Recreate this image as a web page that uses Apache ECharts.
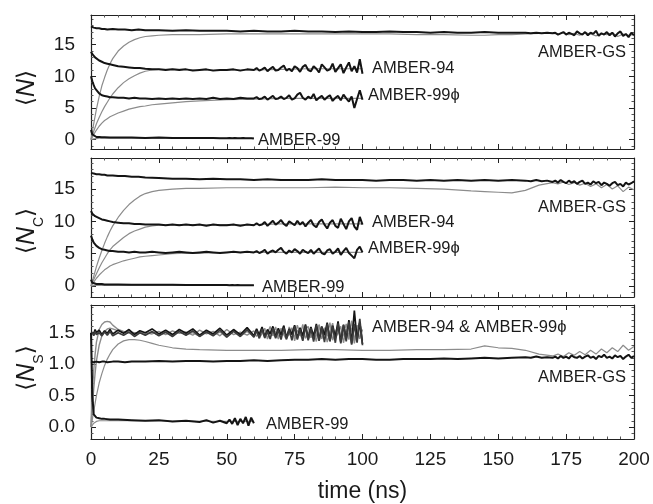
<!DOCTYPE html>
<html>
<head>
<meta charset="utf-8">
<script src="https://cdn.jsdelivr.net/npm/echarts@6/dist/echarts.min.js"></script>
<style>
  html, body { margin: 0; padding: 0; background: #fff; }
  #chart { width: 653px; height: 504px; }
</style>
</head>
<body>
<div id="chart"></div>
<script>
// time grids (ns)
const tGS = [0, 1, 2, 3, 4, 5, 6, 8, 10, 12.5, 15, 17.5, 20,
    25, 30, 35, 40, 45, 50, 55, 60, 65, 70, 75, 80, 85, 90, 95, 100, 105, 110, 115, 120, 125, 130, 135, 140, 145, 150, 155, 160,
    162, 164, 166, 168, 170,
    171, 172, 173, 174, 175, 176, 177, 178, 179, 180, 181, 182, 183, 184, 185, 186, 187, 188, 189, 190,
    191, 192, 193, 194, 195, 196, 197, 198, 199, 200];
const t100 = [0, 0.5, 1, 1.5, 2, 3, 4, 5, 6, 7, 8, 10, 12, 14, 16, 18, 20,
    22.5, 25, 27.5, 30, 32.5, 35, 37.5, 40, 42.5, 45, 47.5, 50, 52.5, 55, 57.5, 60,
    61, 62, 63, 64, 65, 66, 67, 68, 69, 70, 71, 72, 73, 74, 75, 76, 77, 78, 79, 80,
    81, 82, 83, 84, 85, 86, 87, 88, 89, 90, 91, 92, 93, 94, 95, 96, 97, 98, 99, 100];
const t60 = [0, 0.5, 1, 2, 3, 4, 5, 7, 10, 15, 20, 25, 30, 35, 40, 42.5, 45, 47.5, 50,
    51, 52, 53, 54, 55, 56, 57, 58, 59, 60];
const tGray = [0, 1, 2, 3, 4, 5, 6, 7, 8, 10, 12, 14, 16, 18, 20, 22.5, 25, 30, 35, 40, 50, 60, 70, 80, 90, 100];
const tGrayGS = [0, 1, 2, 3, 4, 5, 6, 7, 8, 10, 12, 14, 16, 18, 20, 22.5, 25, 30, 35, 40, 50, 60, 70, 80, 90, 100,
    110, 120, 130, 140, 145, 150, 155, 160, 165, 170,
    172, 174, 176, 178, 180, 182, 184, 186, 188, 190, 192, 194, 196, 198, 200];
const tGray99 = [0, 1, 2, 3, 5, 10, 20, 30, 40, 50, 60];

// <N>
const nGSFold = [17.9, 17.7, 17.6, 17.6, 17.5, 17.5, 17.4, 17.5, 17.4, 17.4, 17.3, 17.4, 17.3,
    17.3, 17.2, 17.3, 17.2, 17.2, 17.2, 17.1, 17.2, 17.1, 17.1, 17.2, 17.1, 17.1, 17.0, 17.1, 17.0,
    17.0, 17.1, 17.0, 17.0, 16.9, 17.0, 16.9, 16.9, 17.0, 16.9, 16.9, 16.9,
    16.8, 16.9, 16.8, 16.9, 16.8,
    16.9, 16.6, 16.8, 17.0, 16.6, 16.9, 16.7, 16.5, 17.1, 16.8, 16.6, 17.0, 16.5, 16.9, 16.7,
    17.2, 16.4, 16.8, 16.6, 17.0, 16.5, 16.9, 16.3, 16.8, 17.1, 16.4, 16.7, 16.2, 16.9, 16.5];
const nGSUnf = [0, 2.5, 4.8, 6.8, 8.5, 9.8, 11.0, 12.0, 12.8, 14.0, 14.8, 15.4, 15.8, 16.1, 16.3, 16.4,
    16.5, 16.6, 16.6, 16.6, 16.7, 16.7, 16.7, 16.7, 16.7, 16.7,
    16.7, 16.6, 16.6, 16.5, 16.5, 16.6, 16.6, 16.7, 16.8, 16.8,
    16.7, 16.9, 16.6, 16.8, 16.5, 16.9, 16.7, 16.4, 16.8, 16.6, 16.9, 16.3, 16.7, 16.5, 16.6];
const n94Fold = [13.9, 13.5, 13.2, 13.0, 12.8, 12.5, 12.3, 12.1, 12.0, 11.9, 11.8,
    11.6, 11.5, 11.4, 11.3, 11.3, 11.2,
    11.1, 11.1, 11.0, 11.1, 11.0, 11.1, 10.9, 11.0, 11.1, 10.9, 11.0, 11.0, 11.1, 10.9, 11.1, 11.0,
    11.3, 10.9, 11.1, 11.4, 10.8, 11.2, 11.5, 10.9, 11.0, 11.4,
    11.7, 10.9, 11.2, 10.8, 11.6, 11.3, 10.7, 11.5, 11.8, 11.0,
    10.8, 11.6, 11.2, 10.6, 11.9, 11.4, 10.9, 11.1, 12.0, 10.7,
    11.3, 11.9, 10.5, 11.4, 12.2, 10.8, 11.6, 10.6, 12.7, 10.4];
const n94Unf = [0, 1.3, 2.5, 3.5, 4.4, 5.2, 5.9, 6.6, 7.2, 8.2, 9.0, 9.6, 10.1, 10.5, 10.8, 11.0,
    11.1, 11.1, 11.1, 11.0, 11.0, 11.0, 11.1, 11.2, 11.2, 11.2];
const n99pFold = [10.0, 9.2, 8.6, 8.1, 7.8, 7.3, 7.0, 6.9, 6.8, 6.7, 6.7,
    6.6, 6.6, 6.5, 6.6, 6.5, 6.5,
    6.4, 6.5, 6.4, 6.5, 6.4, 6.5, 6.4, 6.5, 6.4, 6.6, 6.4, 6.5, 6.4, 6.6, 6.5, 6.5,
    6.7, 6.4, 6.5, 6.8, 6.3, 6.6, 6.9, 6.4, 6.5, 6.8,
    6.4, 6.6, 7.0, 6.3, 6.5, 7.1, 7.4, 6.6, 6.3, 6.8,
    6.5, 7.2, 6.2, 6.6, 6.9, 6.3, 6.7, 7.0, 6.1, 6.6,
    6.9, 6.2, 7.1, 6.5, 6.0, 6.8, 5.0, 6.4, 7.8, 6.3];
const n99pUnf = [0, 0.8, 1.5, 2.1, 2.6, 3.0, 3.3, 3.6, 3.8, 4.2, 4.5, 4.8, 5.0, 5.2, 5.3, 5.5,
    5.6, 5.8, 6.0, 6.1, 6.3, 6.4, 6.5, 6.5, 6.5, 6.5];
const n99Fold = [1.5, 0.8, 0.5, 0.4, 0.4, 0.35, 0.35, 0.3, 0.3, 0.3, 0.25, 0.3, 0.25, 0.25, 0.25, 0.25, 0.25, 0.2, 0.2,
    0.25, 0.2, 0.25, 0.2, 0.2, 0.25, 0.2, 0.2, 0.2, 0.15];
const n99Unf = [0, 0.1, 0.15, 0.2, 0.2, 0.2, 0.2, 0.2, 0.2, 0.2, 0.2];

// <N_C>
const cGSFold = [17.5, 17.4, 17.3, 17.3, 17.2, 17.2, 17.1, 17.1, 17.0, 17.0, 16.9, 16.9, 16.8,
    16.7, 16.6, 16.6, 16.5, 16.6, 16.5, 16.5, 16.4, 16.5, 16.4, 16.4, 16.4, 16.5, 16.4, 16.4, 16.4,
    16.3, 16.4, 16.4, 16.3, 16.4, 16.3, 16.4, 16.3, 16.4, 16.3, 16.4, 16.3,
    16.2, 16.4, 16.2, 16.3, 16.1,
    16.3, 16.0, 16.4, 16.1, 15.9, 16.3, 16.0, 16.2, 15.8, 16.1, 16.3, 15.8, 16.0, 15.7, 16.2,
    15.9, 16.1, 15.6, 16.0, 15.8, 15.5, 15.9, 16.1, 15.6, 15.8, 15.4, 16.0, 15.7, 15.9, 16.2];
const cGSUnf = [0, 1.5, 3.0, 4.3, 5.5, 6.6, 7.6, 8.5, 9.3, 10.6, 11.7, 12.6, 13.3, 13.9, 14.3, 14.6,
    14.8, 15.0, 15.1, 15.1, 15.2, 15.2, 15.2, 15.2, 15.3, 15.2,
    15.2, 15.1, 15.0, 14.7, 14.6, 14.5, 14.4, 14.8, 15.6, 16.0,
    15.8, 16.1, 15.7, 16.0, 15.6, 15.9, 15.4, 15.8, 15.2, 15.7, 15.0, 15.5, 14.6, 15.3, 14.9];
const c94Fold = [11.6, 11.2, 11.0, 10.8, 10.7, 10.5, 10.3, 10.2, 10.1, 10.0, 9.9,
    9.8, 9.7, 9.7, 9.6, 9.6, 9.5,
    9.5, 9.5, 9.4, 9.5, 9.4, 9.5, 9.4, 9.5, 9.3, 9.5, 9.4, 9.4, 9.5, 9.3, 9.5, 9.4,
    9.7, 9.4, 9.5, 9.9, 9.3, 9.7, 10.1, 9.5, 9.8, 10.2,
    9.6, 9.3, 10.0, 9.7, 9.4, 10.1, 9.5, 9.9, 9.2, 9.8,
    10.2, 9.4, 9.1, 9.9, 10.3, 9.5, 8.9, 9.8, 10.2, 9.3,
    9.0, 10.4, 9.6, 8.8, 10.0, 10.5, 9.2, 8.7, 10.7, 9.5];
const c94Unf = [0, 1.0, 1.9, 2.8, 3.6, 4.3, 5.0, 5.6, 6.1, 6.8, 7.5, 8.1, 8.5, 8.8, 9.1, 9.3,
    9.4, 9.5, 9.5, 9.5, 9.5, 9.5, 9.6, 9.6, 9.6, 9.6];
const c99pFold = [7.8, 7.2, 6.7, 6.4, 6.2, 5.9, 5.7, 5.6, 5.5, 5.4, 5.4,
    5.3, 5.3, 5.2, 5.3, 5.2, 5.2,
    5.3, 5.2, 5.1, 5.2, 5.3, 5.2, 5.1, 5.2, 5.3, 5.2, 5.1, 5.2, 5.3, 5.2, 5.3, 5.2,
    5.4, 5.1, 5.3, 5.6, 5.0, 5.3, 5.5, 5.2, 5.6, 5.9,
    5.3, 5.0, 5.5, 5.2, 5.7, 5.4, 5.0, 5.6, 5.3, 5.1,
    5.6, 5.0, 5.4, 5.8, 5.1, 4.9, 5.5, 5.7, 5.0, 5.3,
    5.8, 4.8, 5.4, 5.9, 5.1, 4.7, 4.3, 5.6, 6.1, 5.2];
const c99pUnf = [0, 0.6, 1.2, 1.7, 2.1, 2.5, 2.8, 3.1, 3.3, 3.6, 3.9, 4.1, 4.3, 4.5, 4.6, 4.7,
    4.8, 5.0, 5.1, 5.1, 5.2, 5.2, 5.2, 5.2, 5.2, 5.2];
const c99Fold = [1.0, 0.5, 0.35, 0.3, 0.3, 0.3, 0.25, 0.25, 0.25, 0.2, 0.2, 0.2, 0.2, 0.15, 0.15, 0.15, 0.15, 0.15, 0.15,
    0.1, 0.15, 0.1, 0.15, 0.1, 0.1, 0.1, 0.1, 0.1, 0.1];
const c99Unf = [0, 0.05, 0.1, 0.1, 0.1, 0.1, 0.1, 0.1, 0.1, 0.1, 0.1];

// <N_S>
const sGSFold = [1.04, 1.03, 1.04, 1.03, 1.04, 1.04, 1.03, 1.04, 1.04, 1.03, 1.04, 1.04, 1.04,
    1.05, 1.04, 1.05, 1.05, 1.04, 1.05, 1.05, 1.06, 1.05, 1.06, 1.07, 1.07, 1.08, 1.07, 1.08, 1.08,
    1.07, 1.07, 1.08, 1.08, 1.08, 1.09, 1.08, 1.09, 1.10, 1.09, 1.10, 1.11,
    1.10, 1.12, 1.10, 1.11, 1.10,
    1.12, 1.09, 1.13, 1.10, 1.12, 1.09, 1.14, 1.11, 1.10, 1.13, 1.09, 1.12, 1.14, 1.10, 1.12,
    1.08, 1.13, 1.11, 1.15, 1.10, 1.12, 1.09, 1.14, 1.11, 1.13, 1.08, 1.12, 1.15, 1.10, 1.13];
const sGSUnf = [0, 0.25, 0.5, 0.7, 0.85, 0.98, 1.08, 1.16, 1.23, 1.32, 1.37, 1.39, 1.39, 1.38, 1.36, 1.33,
    1.30, 1.26, 1.24, 1.23, 1.22, 1.22, 1.22, 1.23, 1.23, 1.22,
    1.22, 1.23, 1.23, 1.24, 1.29, 1.26, 1.25, 1.22, 1.16, 1.13,
    1.16, 1.12, 1.18, 1.14, 1.20, 1.15, 1.22, 1.16, 1.24, 1.18, 1.26, 1.20, 1.30, 1.22, 1.28];
const s94Fold = [1.50, 1.53, 1.48, 1.55, 1.50, 1.54, 1.47, 1.53, 1.49, 1.55, 1.48,
    1.54, 1.49, 1.55, 1.47, 1.53, 1.50,
    1.56, 1.48, 1.54, 1.47, 1.55, 1.49, 1.56, 1.46, 1.54, 1.48, 1.57, 1.46, 1.55, 1.47, 1.58, 1.45,
    1.56, 1.46, 1.59, 1.44, 1.55, 1.48, 1.60, 1.43, 1.57, 1.46,
    1.61, 1.42, 1.56, 1.47, 1.62, 1.41, 1.58, 1.45, 1.63, 1.40,
    1.59, 1.44, 1.64, 1.38, 1.60, 1.46, 1.66, 1.37, 1.61, 1.43,
    1.68, 1.35, 1.62, 1.40, 1.70, 1.33, 1.85, 1.38, 1.66, 1.32];
const s99pFold = [1.47, 1.51, 1.45, 1.52, 1.47, 1.50, 1.45, 1.51, 1.46, 1.52, 1.45,
    1.50, 1.46, 1.51, 1.44, 1.50, 1.46,
    1.52, 1.45, 1.51, 1.44, 1.52, 1.46, 1.53, 1.44, 1.51, 1.45, 1.54, 1.43, 1.52, 1.44, 1.55, 1.43,
    1.53, 1.41, 1.56, 1.42, 1.52, 1.40, 1.57, 1.41, 1.54, 1.39,
    1.58, 1.40, 1.55, 1.38, 1.60, 1.39, 1.56, 1.37, 1.61, 1.38,
    1.57, 1.36, 1.62, 1.37, 1.59, 1.35, 1.64, 1.36, 1.60, 1.34,
    1.65, 1.33, 1.63, 1.36, 1.67, 1.31, 1.64, 1.34, 1.72, 1.30];
const s94Unf = [0, 0.55, 0.9, 1.15, 1.35, 1.55, 1.63, 1.67, 1.68, 1.67, 1.62,
    1.55, 1.52, 1.51, 1.50, 1.49, 1.50,
    1.48, 1.52, 1.47, 1.53, 1.49, 1.51, 1.46, 1.54, 1.48, 1.52, 1.45, 1.55, 1.47, 1.51, 1.46, 1.53,
    1.44, 1.50, 1.58, 1.41, 1.49, 1.60, 1.45, 1.52, 1.40, 1.57,
    1.47, 1.39, 1.59, 1.50, 1.43, 1.62, 1.48, 1.38, 1.55, 1.60,
    1.42, 1.51, 1.36, 1.63, 1.47, 1.58, 1.35, 1.52, 1.65, 1.41,
    1.50, 1.60, 1.34, 1.56, 1.44, 1.69, 1.37, 1.62, 1.40, 1.55];
const s99pUnf = [0, 0.35, 0.6, 0.85, 1.05, 1.3, 1.45, 1.52, 1.56, 1.57, 1.56,
    1.53, 1.51, 1.50, 1.49, 1.51, 1.48,
    1.51, 1.46, 1.50, 1.45, 1.52, 1.47, 1.50, 1.44, 1.53, 1.46, 1.51, 1.43, 1.54, 1.45, 1.52, 1.44,
    1.55, 1.42, 1.48, 1.57, 1.40, 1.53, 1.46, 1.59, 1.43, 1.50,
    1.61, 1.42, 1.47, 1.58, 1.37, 1.54, 1.45, 1.63, 1.41, 1.49,
    1.57, 1.39, 1.46, 1.62, 1.40, 1.55, 1.44, 1.66, 1.38, 1.51,
    1.60, 1.36, 1.47, 1.64, 1.39, 1.58, 1.33, 1.54, 1.67, 1.38];
const s99Fold = [1.50, 0.50, 0.20, 0.15, 0.14, 0.13, 0.13, 0.12, 0.12, 0.11, 0.10, 0.11, 0.09, 0.10, 0.08, 0.11,
    0.07, 0.10, 0.06, 0.12, 0.05, 0.14, 0.03, 0.13, 0.06, 0.16, 0.02, 0.15, 0.06];
const s99Unf = [0, 0.06, 0.09, 0.1, 0.1, 0.1, 0.1, 0.09, 0.09, 0.09, 0.09];

const xTicks = [0, 25, 50, 75, 100, 125, 150, 175, 200];
const yRanges = [[-1.5, 19.7], [-1.7, 19.8], [-0.19, 1.94]];

const BLACK = '#141414';
const GRAY = '#8c8c8c';
const FONT = 'Liberation Sans';

function pairs(t, v) {
    return t.map((x, i) => [x, v[i]]);
}

function line(g, t, v, color, width) {
    return {
        type: 'line',
        xAxisIndex: g * 2,
        yAxisIndex: g * 2,
        data: pairs(t, v),
        showSymbol: false,
        symbol: 'none',
        silent: true,
        lineStyle: {color: color, width: width},
        z: color === GRAY ? 2 : 3
    };
}

const grids = [
    {left: 91, right: 19, top: 15, height: 134},
    {left: 91, right: 19, top: 158, height: 139},
    {left: 91, right: 19, top: 305, height: 134}
];

let xAxes = [];
let yAxes = [];
const frameLine = {show: true, onZero: false, lineStyle: {color: '#222', width: 1.2}};
for (let g = 0; g < 3; g++) {
    ['bottom', 'top'].forEach((pos, k) => {
        xAxes.push({
            type: 'value', gridIndex: g, position: pos,
            min: xTicks[0], max: xTicks[xTicks.length - 1], interval: 25,
            axisLine: frameLine,
            axisTick: {show: true, inside: true, length: 5, lineStyle: {color: '#222'}},
            minorTick: {show: true, splitNumber: 5, length: 2.5, lineStyle: {color: '#555'}},
            splitLine: {show: false},
            axisLabel: {
                show: g === 2 && k === 0,
                fontSize: 19, color: '#1a1a1a', fontFamily: FONT, margin: 11
            },
            name: g === 2 && k === 0 ? 'time (ns)' : '',
            nameLocation: 'middle', nameGap: 41,
            nameTextStyle: {fontSize: 23, color: '#1a1a1a', fontFamily: FONT}
        });
    });
    ['left', 'right'].forEach((pos, k) => {
        yAxes.push({
            type: 'value', gridIndex: g, position: pos,
            min: yRanges[g][0], max: yRanges[g][1], splitNumber: 5,
            axisLine: frameLine,
            axisTick: {show: true, inside: true, length: 5, lineStyle: {color: '#222'}},
            minorTick: {show: true, splitNumber: 5, length: 2.5, lineStyle: {color: '#555'}},
            splitLine: {show: false},
            axisLabel: {
                show: k === 0, showMinLabel: false, showMaxLabel: false,
                fontSize: 19, color: '#1a1a1a', fontFamily: FONT, margin: 16,
                formatter: v => g === 2 ? v.toFixed(1) : String(Math.round(v))
            }
        });
    });
}

const series = [
    line(0, tGrayGS, nGSUnf, GRAY, 1.2),
    line(0, tGray, n94Unf, GRAY, 1.2),
    line(0, tGray, n99pUnf, GRAY, 1.2),
    line(0, tGray99, n99Unf, GRAY, 1.2),
    line(0, tGS, nGSFold, BLACK, 2),
    line(0, t100, n94Fold, BLACK, 2),
    line(0, t100, n99pFold, BLACK, 2),
    line(0, t60, n99Fold, BLACK, 2),

    line(1, tGrayGS, cGSUnf, GRAY, 1.2),
    line(1, tGray, c94Unf, GRAY, 1.2),
    line(1, tGray, c99pUnf, GRAY, 1.2),
    line(1, tGray99, c99Unf, GRAY, 1.2),
    line(1, tGS, cGSFold, BLACK, 2),
    line(1, t100, c94Fold, BLACK, 2),
    line(1, t100, c99pFold, BLACK, 2),
    line(1, t60, c99Fold, BLACK, 2),

    line(2, tGrayGS, sGSUnf, GRAY, 1.2),
    line(2, tGray99, s99Unf, GRAY, 1.2),
    line(2, t100, s94Unf, GRAY, 1.4),
    line(2, t100, s99pUnf, GRAY, 1.4),
    line(2, tGS, sGSFold, BLACK, 2),
    line(2, t100, s94Fold, BLACK, 1.7),
    line(2, t100, s99pFold, '#3a3a3a', 1.7),
    line(2, t60, s99Fold, BLACK, 2)
];

function label(text, x, y, align) {
    return {
        type: 'text', x: x, y: y, silent: true,
        style: {
            text: text, fill: '#1a1a1a', fontSize: 16.5, fontFamily: FONT,
            align: align || 'left', verticalAlign: 'middle'
        }
    };
}

// rotated axis title, subscript pushed down by a tall line box
function yTitle(sub, y) {
    return {
        type: 'text', x: 27, y: y, rotation: Math.PI / 2, silent: true,
        style: {
            text: '{b|⟨}{n|N}' + (sub ? '{s|' + sub + '}' : '') + '{b|⟩}',
            align: 'center', verticalAlign: 'middle',
            rich: {
                b: {fontSize: 23, fontFamily: 'DejaVu Sans', fill: '#1a1a1a', lineHeight: 38},
                n: {fontSize: 25, fontFamily: FONT, fontStyle: 'italic', fill: '#1a1a1a', lineHeight: 38},
                s: {fontSize: 14, fontFamily: FONT, fill: '#1a1a1a', verticalAlign: 'bottom'}
            }
        }
    };
}

const graphics = [
    yTitle('', 88),
    yTitle('C', 231),
    yTitle('S', 368),
    label('AMBER-GS', 626, 52, 'right'),
    label('AMBER-94', 372, 68),
    label('AMBER-99ϕ', 368, 95),
    label('AMBER-99', 258, 140),
    label('AMBER-GS', 626, 207, 'right'),
    label('AMBER-94', 372, 222),
    label('AMBER-99ϕ', 368, 248),
    label('AMBER-99', 262, 287),
    label('AMBER-94 & AMBER-99ϕ', 372, 327),
    label('AMBER-GS', 626, 377, 'right'),
    label('AMBER-99', 266, 424)
];

const chart = echarts.init(document.getElementById('chart'));
chart.setOption({
    backgroundColor: '#fff',
    animation: false,
    grid: grids,
    xAxis: xAxes,
    yAxis: yAxes,
    series: series,
    graphic: graphics
});
</script>
</body>
</html>
